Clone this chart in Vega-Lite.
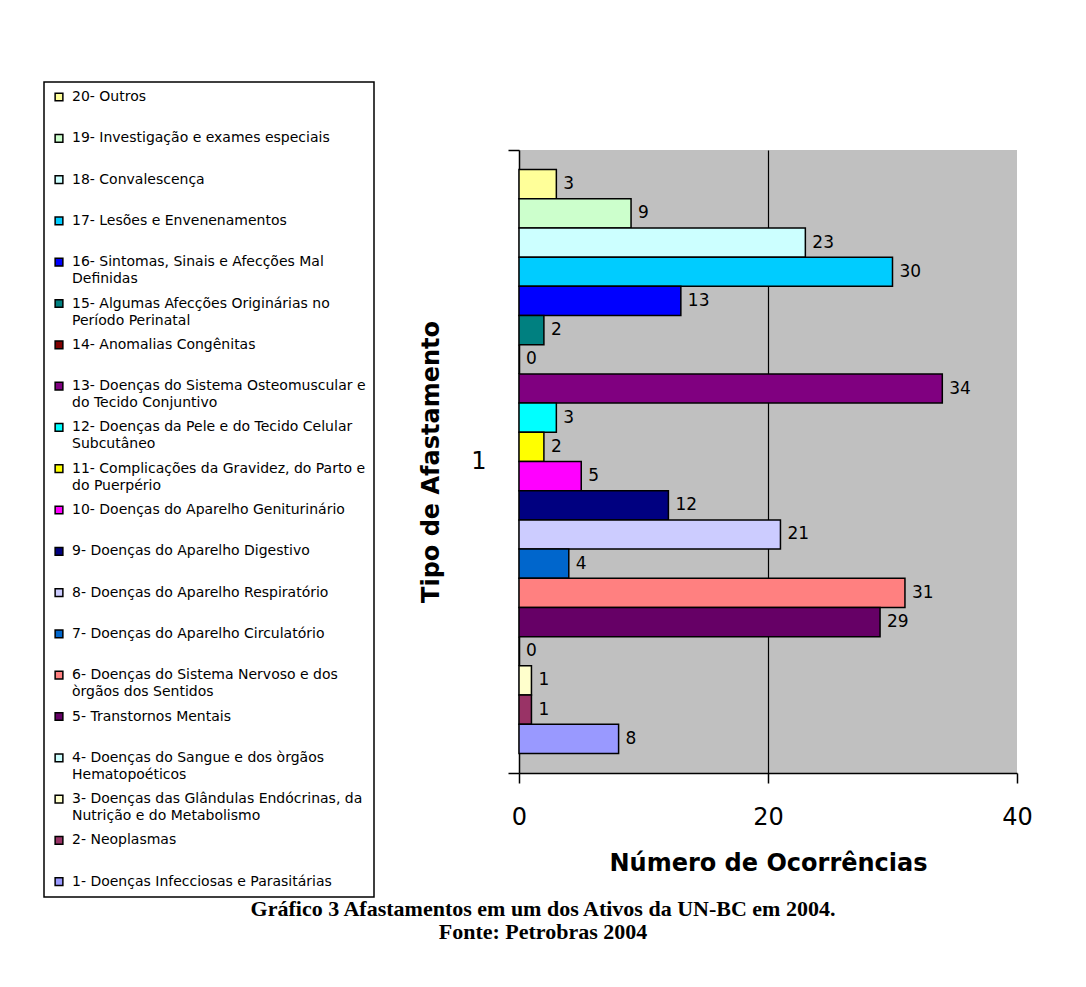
{
  "$schema": "https://vega.github.io/schema/vega-lite/v6.json",
  "width": 498,
  "height": 623,
  "autosize": {"type": "none"},
  "padding": {"left": 519, "top": 150, "right": 69, "bottom": 214},
  "background": "white",
  "title": {
    "text": "Gráfico 3 Afastamentos em um dos Ativos da UN-BC em 2004.",
    "subtitle": "Fonte: Petrobras 2004",
    "orient": "bottom",
    "anchor": "middle",
    "frame": "group",
    "dx": -225,
    "offset": 1,
    "font": "Liberation Serif",
    "fontSize": 22,
    "fontWeight": "bold",
    "color": "black",
    "subtitleFont": "Liberation Serif",
    "subtitleFontSize": 22,
    "subtitleFontWeight": "bold",
    "subtitleColor": "black",
    "subtitlePadding": 1
  },
  "data": {
    "values": [
      {"grupo": "1", "causa": "20- Outros", "valor": 3},
      {"grupo": "1", "causa": "19- Investigação e exames especiais", "valor": 9},
      {"grupo": "1", "causa": "18- Convalescença", "valor": 23},
      {"grupo": "1", "causa": "17- Lesões e Envenenamentos", "valor": 30},
      {"grupo": "1", "causa": "16- Sintomas, Sinais e Afecções Mal|Definidas", "valor": 13},
      {"grupo": "1", "causa": "15- Algumas Afecções Originárias no|Período Perinatal", "valor": 2},
      {"grupo": "1", "causa": "14- Anomalias Congênitas", "valor": 0},
      {"grupo": "1", "causa": "13- Doenças do Sistema Osteomuscular e|do Tecido Conjuntivo", "valor": 34},
      {"grupo": "1", "causa": "12- Doenças da Pele e do Tecido Celular|Subcutâneo", "valor": 3},
      {"grupo": "1", "causa": "11- Complicações da Gravidez, do Parto e|do Puerpério", "valor": 2},
      {"grupo": "1", "causa": "10- Doenças do Aparelho Geniturinário", "valor": 5},
      {"grupo": "1", "causa": "9- Doenças do Aparelho Digestivo", "valor": 12},
      {"grupo": "1", "causa": "8- Doenças do Aparelho Respiratório", "valor": 21},
      {"grupo": "1", "causa": "7- Doenças do Aparelho Circulatório", "valor": 4},
      {"grupo": "1", "causa": "6- Doenças do Sistema Nervoso e dos|òrgãos dos Sentidos", "valor": 31},
      {"grupo": "1", "causa": "5- Transtornos Mentais", "valor": 29},
      {"grupo": "1", "causa": "4- Doenças do Sangue e dos òrgãos|Hematopoéticos", "valor": 0},
      {"grupo": "1", "causa": "3- Doenças das Glândulas Endócrinas, da|Nutrição e do Metabolismo", "valor": 1},
      {"grupo": "1", "causa": "2- Neoplasmas", "valor": 1},
      {"grupo": "1", "causa": "1- Doenças Infecciosas e Parasitárias", "valor": 8}
    ]
  },
  "encoding": {
    "y": {
      "field": "grupo",
      "type": "nominal",
      "scale": {"paddingInner": 0, "paddingOuter": 0},
      "axis": {
        "title": "Tipo de Afastamento",
        "titleFont": "DejaVu Sans",
        "titleFontSize": 24,
        "titleFontWeight": "bold",
        "titleColor": "black",
        "titlePadding": 27,
        "labelFont": "DejaVu Sans",
        "labelFontSize": 24,
        "labelColor": "black",
        "labelPadding": 22,
        "labelAngle": 0,
        "tickBand": "extent",
        "tickSize": 11,
        "tickColor": "black",
        "tickWidth": 1.5,
        "domainColor": "black",
        "domainWidth": 1.5,
        "grid": false
      }
    },
    "yOffset": {
      "field": "causa",
      "type": "nominal",
      "scale": {
        "domain": [
          "20- Outros",
          "19- Investigação e exames especiais",
          "18- Convalescença",
          "17- Lesões e Envenenamentos",
          "16- Sintomas, Sinais e Afecções Mal|Definidas",
          "15- Algumas Afecções Originárias no|Período Perinatal",
          "14- Anomalias Congênitas",
          "13- Doenças do Sistema Osteomuscular e|do Tecido Conjuntivo",
          "12- Doenças da Pele e do Tecido Celular|Subcutâneo",
          "11- Complicações da Gravidez, do Parto e|do Puerpério",
          "10- Doenças do Aparelho Geniturinário",
          "9- Doenças do Aparelho Digestivo",
          "8- Doenças do Aparelho Respiratório",
          "7- Doenças do Aparelho Circulatório",
          "6- Doenças do Sistema Nervoso e dos|òrgãos dos Sentidos",
          "5- Transtornos Mentais",
          "4- Doenças do Sangue e dos òrgãos|Hematopoéticos",
          "3- Doenças das Glândulas Endócrinas, da|Nutrição e do Metabolismo",
          "2- Neoplasmas",
          "1- Doenças Infecciosas e Parasitárias"
        ],
        "paddingInner": 0,
        "paddingOuter": 0.67
      }
    },
    "x": {
      "field": "valor",
      "type": "quantitative",
      "scale": {"domain": [0, 40], "nice": false},
      "axis": {
        "values": [0, 20, 40],
        "title": "Número de Ocorrências",
        "titleFont": "DejaVu Sans",
        "titleFontSize": 24,
        "titleFontWeight": "bold",
        "titleColor": "black",
        "titlePadding": 22,
        "labelFont": "DejaVu Sans",
        "labelFontSize": 24,
        "labelColor": "black",
        "labelPadding": 22,
        "labelFlush": false,
        "tickSize": 10,
        "tickColor": "black",
        "tickWidth": 1.5,
        "domainColor": "black",
        "domainWidth": 1.5,
        "grid": true,
        "gridColor": "black",
        "gridWidth": 1.2,
        "gridOpacity": {"condition": {"test": "datum.value === 20", "value": 1}, "value": 0}
      }
    }
  },
  "layer": [
    {
      "mark": {"type": "bar", "stroke": "black", "strokeWidth": 1.5},
      "encoding": {
        "color": {
          "field": "causa",
          "type": "nominal",
          "scale": {
            "domain": [
              "20- Outros",
              "19- Investigação e exames especiais",
              "18- Convalescença",
              "17- Lesões e Envenenamentos",
              "16- Sintomas, Sinais e Afecções Mal|Definidas",
              "15- Algumas Afecções Originárias no|Período Perinatal",
              "14- Anomalias Congênitas",
              "13- Doenças do Sistema Osteomuscular e|do Tecido Conjuntivo",
              "12- Doenças da Pele e do Tecido Celular|Subcutâneo",
              "11- Complicações da Gravidez, do Parto e|do Puerpério",
              "10- Doenças do Aparelho Geniturinário",
              "9- Doenças do Aparelho Digestivo",
              "8- Doenças do Aparelho Respiratório",
              "7- Doenças do Aparelho Circulatório",
              "6- Doenças do Sistema Nervoso e dos|òrgãos dos Sentidos",
              "5- Transtornos Mentais",
              "4- Doenças do Sangue e dos òrgãos|Hematopoéticos",
              "3- Doenças das Glândulas Endócrinas, da|Nutrição e do Metabolismo",
              "2- Neoplasmas",
              "1- Doenças Infecciosas e Parasitárias"
            ],
            "range": [
              "#FFFF99", "#CCFFCC", "#CCFFFF", "#00CCFF", "#0000FF",
              "#008080", "#800000", "#800080", "#00FFFF", "#FFFF00",
              "#FF00FF", "#000080", "#CCCCFF", "#0066CC", "#FF8080",
              "#660066", "#CCFFFF", "#FFFFCC", "#993366", "#9999FF"
            ]
          },
          "legend": {
            "orient": "none",
            "legendX": -475,
            "legendY": -68,
            "title": null,
            "strokeColor": "black",
            "fillColor": "white",
            "padding": 8,
            "symbolType": "square",
            "symbolSize": 60,
            "symbolStrokeColor": "black",
            "symbolStrokeWidth": 1.5,
            "symbolOffset": 0,
            "labelFont": "DejaVu Sans",
            "labelFontSize": 14,
            "labelColor": "black",
            "labelBaseline": "top",
            "labelOffset": 6,
            "labelLimit": 500,
            "rowPadding": 10.3,
            "labelExpr": "indexof(datum.label, '|') >= 0 ? split(datum.label, '|') : (datum.label == '1- Doenças Infecciosas e Parasitárias' ? datum.label : [datum.label, ' '])",
            "encode": {
              "labels": {"update": {"lineHeight": {"value": 17}, "dy": {"value": -7}}},
              "legend": {"update": {"strokeWidth": {"value": 1.5}}}
            }
          }
        }
      }
    },
    {
      "mark": {"type": "text", "align": "left", "baseline": "middle", "dx": 7, "font": "DejaVu Sans", "fontSize": 17, "color": "black"},
      "encoding": {"text": {"field": "valor", "type": "quantitative"}}
    }
  ],
  "config": {
    "view": {"fill": "#C0C0C0", "stroke": null}
  }
}
